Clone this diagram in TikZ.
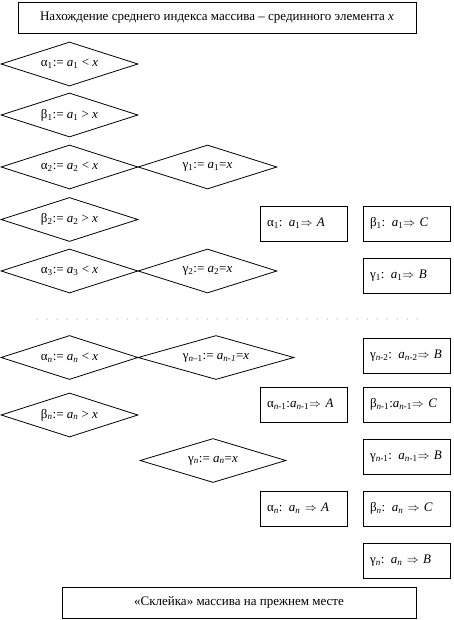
\documentclass[tikz,border=0pt]{standalone}
\usepackage{fontspec}
\setmainfont{Liberation Serif}
\usetikzlibrary{shapes.geometric}

\newcommand{\lo}[1]{\textsubscript{#1}}
\newcommand{\ai}[1]{\textit{a}\lo{#1}}
\newcommand{\vx}{\textit{x}}
\newcommand{\nn}{\textit{n}}

\begin{document}
\begin{tikzpicture}[x=1pt,y=-1pt,
		every node/.style={font=\fontsize{13}{15}\selectfont},
		romb/.style={draw,diamond,line width=0.8pt,shape aspect=3,inner sep=0pt,minimum width=137pt,minimum height=44pt},
		res/.style={draw,rectangle,line width=0.8pt,text width=73pt,inner sep=7pt,minimum height=35pt,align=left},
		hdr/.style={draw,rectangle,line width=0.8pt,minimum height=31pt}]
		\useasboundingbox (0,0) rectangle (454,620);

		\node[hdr,minimum width=398pt] (top) at (217,17.5) {Нахождение среднего индекса массива – срединного элемента \vx};

		\node[romb] (al1) at (69.5,64) {α\lo{1}:= \ai{1} < \vx};
		\node[romb] (be1) at (69.5,115) {β\lo{1}:= \ai{1} > \vx};
		\node[romb] (al2) at (69.5,167) {α\lo{2}:= \ai{2} < \vx};
		\node[romb,minimum width=139pt] (ga1) at (207.5,167) {γ\lo{1}:= \ai{1}=\vx};
		\node[romb] (be2) at (69.5,219.5) {β\lo{2}:= \ai{2} > \vx};
		\node[romb] (al3) at (69.5,271) {α\lo{3}:= \ai{3} < \vx};
		\node[romb,minimum width=139pt] (ga2) at (207.5,271) {γ\lo{2}:= \ai{2}=\vx};

		\node[res] (rA1) at (303.5,223.5) {α\lo{1}: \ai{1}$\Rightarrow$ \textit{A}};
		\node[res] (rC1) at (406.5,223.5) {β\lo{1}: \ai{1}$\Rightarrow$ \textit{C}};
		\node[res] (rB1) at (406.5,275.5) {γ\lo{1}: \ai{1}$\Rightarrow$ \textit{B}};

		% . . . . .
		\foreach \d in {0,...,38}
			\fill[black!60] (37+10*\d,319) circle (0.5pt);

		\node[romb] (aln) at (69.5,357.5) {α\lo{\nn}:= \ai{\nn} < \vx};
		\node[romb,minimum width=156pt] (gam) at (216,357.5) {γ\lo{\nn–1}:= \ai{\textit{n-1}}=\vx};
		\node[romb] (ben) at (69.5,415) {β\lo{\nn}:= \ai{\nn} > \vx};
		\node[romb,minimum width=146pt] (gan) at (213,460.5) {γ\lo{\nn}:= \ai{\nn}=\vx};

		\node[res] (rBmm) at (406.5,355.5) {γ\lo{\nn-2}: \ai{\nn-2}$\Rightarrow$ \textit{B}};
		\node[res] (rAm) at (303.5,404.5) {α\lo{\nn-1}:\ai{\nn-1}$\Rightarrow$ \textit{A}};
		\node[res] (rCm) at (406.5,404.5) {β\lo{\nn-1}:\ai{\nn-1}$\Rightarrow$ \textit{C}};
		\node[res] (rBm) at (406.5,456.5) {γ\lo{\nn-1}: \ai{\nn-1}$\Rightarrow$ \textit{B}};
		\node[res] (rAn) at (303.5,508.5) {α\lo{\nn}: \ai{\nn} $\Rightarrow$ \textit{A}};
		\node[res] (rCn) at (406.5,508.5) {β\lo{\nn}: \ai{\nn} $\Rightarrow$ \textit{C}};
		\node[res] (rBn) at (406.5,560.5) {γ\lo{\nn}: \ai{\nn} $\Rightarrow$ \textit{B}};

		\node[hdr,minimum width=354pt] (bot) at (239,602.5) {«Склейка» массива на прежнем месте};
\end{tikzpicture}
\end{document}
